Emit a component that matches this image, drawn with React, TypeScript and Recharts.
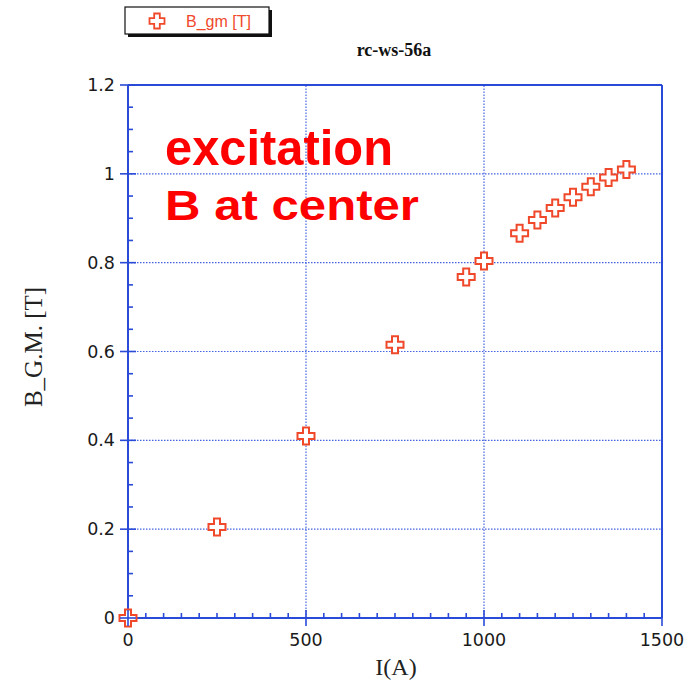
import { ScatterChart, Scatter, XAxis, YAxis, ReferenceLine } from "recharts";

// excitation curve, B at the centre vs current
const currents = [0, 250, 500, 750, 950, 1000, 1100, 1150, 1200, 1250, 1300, 1350, 1400];
const fieldT = [0, 0.205, 0.41, 0.615, 0.768, 0.804, 0.866, 0.896, 0.923, 0.947, 0.971, 0.992, 1.01];

const xMajor = [0, 500, 1000, 1500];
const yMajor = [0, 0.2, 0.4, 0.6, 0.8, 1, 1.2];
const xGrid = [500, 1000];
const yGrid = [0.2, 0.4, 0.6, 0.8, 1];
const xMinorStep = 50;
const yMinorStep = 0.05;

const xTicks = Array.from({ length: 1500 / xMinorStep + 1 }, (_, i) => i * xMinorStep);
const yTicks = Array.from({ length: 25 }, (_, i) => Math.round(i * yMinorStep * 100) / 100);

const AXIS = "#2a4ad8";
const GRID = "#4464e2";
const RED = "#f0482a";
const TICK_FONT = "'DejaVu Sans', sans-serif";
const SERIF = "'Liberation Serif', 'DejaVu Serif', serif";

const isMajorX = (v: number) => xMajor.includes(v);
const isMajorY = (v: number) => yMajor.some((m) => Math.abs(m - v) < 1e-6);

function BottomTick(props: any) {
  const { x, y, payload } = props;
  const major = isMajorX(payload.value);
  return (
    <g>
      <line x1={x} x2={x} y1={major ? y + 8 : y} y2={major ? y - 8 : y - 5} stroke={AXIS} strokeWidth={1.6} />
      {major && (
        <text x={x} y={y + 28} textAnchor="middle" fontFamily={TICK_FONT} fontSize={17.5} fill="#1a1a1a">
          {payload.value}
        </text>
      )}
    </g>
  );
}

function TopTick(props: any) {
  const { x, y, payload } = props;
  const major = isMajorX(payload.value);
  return <line x1={x} x2={x} y1={major ? y - 8 : y} y2={major ? y + 8 : y + 5} stroke={AXIS} strokeWidth={1.6} />;
}

function LeftTick(props: any) {
  const { x, y, payload } = props;
  const major = isMajorY(payload.value);
  return (
    <g>
      <line x1={major ? x - 8 : x} x2={major ? x + 8 : x + 5} y1={y} y2={y} stroke={AXIS} strokeWidth={1.6} />
      {major && (
        <text x={x - 13} y={y + 6} textAnchor="end" fontFamily={TICK_FONT} fontSize={17.5} fill="#1a1a1a">
          {Math.round(payload.value * 10) / 10}
        </text>
      )}
    </g>
  );
}

function RightTick(props: any) {
  const { x, y, payload } = props;
  const major = isMajorY(payload.value);
  return <line x1={major ? x + 8 : x} x2={major ? x - 8 : x - 5} y1={y} y2={y} stroke={AXIS} strokeWidth={1.6} />;
}

function crossPath(cx: number, cy: number, h: number, a: number) {
  return `M${cx - a},${cy - h} H${cx + a} V${cy - a} H${cx + h} V${cy + a} H${cx + a} V${cy + h} H${cx - a} V${cy + a} H${cx - h} V${cy - a} H${cx - a} Z`;
}

function Cross(props: any) {
  const { cx, cy } = props;
  return <path d={crossPath(cx, cy, 8.5, 3)} fill="#fff" stroke={RED} strokeWidth={2} />;
}

export default function App() {
  const points = currents.map((c, i) => ({ current: c, field: fieldT[i] }));

  return (
    <div style={{ position: "absolute", left: 0, top: 0, width: 700, height: 687, background: "#fff" }}>
      <ScatterChart width={700} height={687} margin={{ top: 75, right: 28, bottom: 39, left: 88 }}>
        {xGrid.map((v) => (
          <ReferenceLine key={"gx" + v} x={v} stroke={GRID} strokeWidth={1.2} strokeDasharray="1.5 1.5" />
        ))}
        {yGrid.map((v) => (
          <ReferenceLine key={"gy" + v} y={v} stroke={GRID} strokeWidth={1.2} strokeDasharray="1.5 1.5" />
        ))}
        <XAxis
          type="number"
          dataKey="current"
          domain={[0, 1500]}
          ticks={xTicks}
          interval={0}
          height={30}
          tickSize={0}
          tickMargin={0}
          tickLine={false}
          axisLine={{ stroke: AXIS, strokeWidth: 2 }}
          tick={(p: any) => <BottomTick {...p} />}
        />
        <XAxis
          xAxisId="top"
          orientation="top"
          type="number"
          domain={[0, 1500]}
          ticks={xTicks}
          interval={0}
          height={10}
          tickSize={0}
          tickMargin={0}
          tickLine={false}
          axisLine={{ stroke: AXIS, strokeWidth: 2 }}
          tick={(p: any) => <TopTick {...p} />}
        />
        <YAxis
          type="number"
          dataKey="field"
          domain={[0, 1.2]}
          ticks={yTicks}
          interval={0}
          width={40}
          tickSize={0}
          tickMargin={0}
          tickLine={false}
          axisLine={{ stroke: AXIS, strokeWidth: 2 }}
          tick={(p: any) => <LeftTick {...p} />}
        />
        <YAxis
          yAxisId="right"
          orientation="right"
          type="number"
          domain={[0, 1.2]}
          ticks={yTicks}
          interval={0}
          width={10}
          tickSize={0}
          tickMargin={0}
          tickLine={false}
          axisLine={{ stroke: AXIS, strokeWidth: 2 }}
          tick={(p: any) => <RightTick {...p} />}
        />
        <Scatter data={points} shape={<Cross />} isAnimationActive={false} name="B_gm [T]" />
      </ScatterChart>

      <svg width={700} height={687} style={{ position: "absolute", left: 0, top: 0, pointerEvents: "none" }}>
        {/* legend box with drop shadow */}
        <rect x={128} y={10} width={144} height={27} fill="#111" />
        <rect x={125} y={7} width={144} height={27} fill="#fff" stroke="#111" strokeWidth={1.2} />
        <path d={crossPath(157, 21, 7.5, 2.8)} fill="#fff" stroke={RED} strokeWidth={1.8} />
        <text x={186} y={27} fontFamily="'Liberation Sans', sans-serif" fontSize={16} fill={RED}>
          B_gm [T]
        </text>

        <text x={394} y={56} textAnchor="middle" fontFamily={SERIF} fontWeight="bold" fontSize={18} fill="#111">
          rc-ws-56a
        </text>

        <text x={165} y={165} fontFamily="'Liberation Sans', Arial, sans-serif" fontWeight="bold" fontSize={50}
          fill="#ff0000" textLength={228} lengthAdjust="spacingAndGlyphs">
          excitation
        </text>
        <text x={165} y={220} fontFamily="'Liberation Sans', Arial, sans-serif" fontWeight="bold" fontSize={42}
          fill="#ff0000" textLength={254} lengthAdjust="spacingAndGlyphs">
          B at center
        </text>

        <text x={396} y={675} textAnchor="middle" fontFamily={SERIF} fontSize={24} fill="#222">
          I(A)
        </text>
        <text x={42} y={347} transform="rotate(-90 42 347)" textAnchor="middle" fontFamily={SERIF} fontSize={25} fill="#222">
          B_G.M. [T]
        </text>
      </svg>
    </div>
  );
}
